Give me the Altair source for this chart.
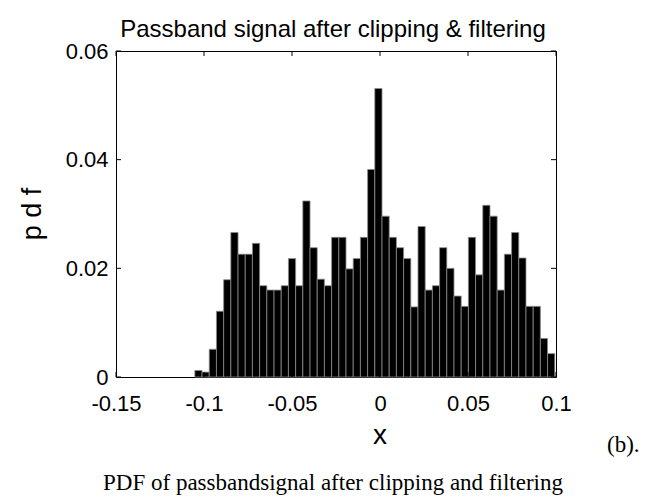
import altair as alt
import pandas as pd
import numpy as np

# ---- data ----
pdf_values = [
    0.0012, 0.0009, 0.0051, 0.0121, 0.0179, 0.0266, 0.0226, 0.0226, 0.0246, 0.0168,
    0.0160, 0.0160, 0.0168, 0.0218, 0.0168, 0.0324, 0.0238, 0.0180, 0.0168, 0.0257,
    0.0257, 0.0199, 0.0218, 0.0257, 0.0382, 0.0531, 0.0296, 0.0257, 0.0238, 0.0218,
    0.0129, 0.0277, 0.0160, 0.0168, 0.0238, 0.0200, 0.0149, 0.0130, 0.0257, 0.0188,
    0.0316, 0.0296, 0.0160, 0.0226, 0.0266, 0.0219, 0.0130, 0.0130, 0.0071, 0.0043,
]
bin_start = -0.1052
bin_end = 0.0993
x_ticks = [-0.15, -0.1, -0.05, 0, 0.05, 0.1]
y_ticks = [0, 0.02, 0.04, 0.06]
title_text = "Passband signal after clipping & filtering"
x_label = "x"
y_label = "p d f"
caption = "PDF of passbandsignal after clipping and filtering"
panel_tag = "(b)."

edges = np.linspace(bin_start, bin_end, len(pdf_values) + 1)
bars = pd.DataFrame({"x0": edges[:-1], "x1": edges[1:], "p": pdf_values,
                     "base": [0.0] * len(pdf_values)})

W, H = 440, 326
SANS = "Liberation Sans"
SERIF = "Liberation Serif"

xs = alt.Scale(domain=[-0.15, 0.1], nice=False, zero=False)
ys = alt.Scale(domain=[0, 0.06], nice=False, zero=False)

bar_layer = alt.Chart(bars).mark_rect(
    fill="black", stroke="#8c8c8c", strokeWidth=0.8
).encode(
    x=alt.X("x0:Q", scale=xs, axis=alt.Axis(
        values=x_ticks, labelExpr="'' + datum.value", title=None,
        labelPadding=16, labelFlush=False, labelOverlap=False)),
    x2="x1:Q",
    y=alt.Y("p:Q", scale=ys, axis=alt.Axis(
        values=y_ticks, labelExpr="'' + datum.value", title=None,
        labelPadding=8, labelFlush=False, labelOverlap=False)),
    y2="base:Q",
)

xt = pd.DataFrame({"v": x_ticks})
yt = pd.DataFrame({"v": y_ticks})
tick_style = dict(color="black", strokeWidth=1)
xb = alt.Chart(xt).mark_rule(**tick_style).encode(
    x=alt.X("v:Q", scale=xs), y=alt.value(H), y2=alt.value(H - 5))
xtop = alt.Chart(xt).mark_rule(**tick_style).encode(
    x=alt.X("v:Q", scale=xs), y=alt.value(0), y2=alt.value(5))
yl = alt.Chart(yt).mark_rule(**tick_style).encode(
    y=alt.Y("v:Q", scale=ys), x=alt.value(0), x2=alt.value(5))
yr = alt.Chart(yt).mark_rule(**tick_style).encode(
    y=alt.Y("v:Q", scale=ys), x=alt.value(W - 5), x2=alt.value(W))


def label(text, x, y, font, size, align="center", angle=0):
    kw = dict(font=font, fontSize=size, align=align, baseline="alphabetic", color="black")
    if angle:
        kw["angle"] = angle
    return alt.Chart(pd.DataFrame({"t": [text]})).mark_text(**kw).encode(
        text="t:N", x=alt.value(x), y=alt.value(y))


texts = [
    label(title_text, 217, -14, SANS, 24),
    label(y_label, -75, 163, SANS, 27, angle=270),
    label(x_label, 264, 393, SANS, 28),
    label(panel_tag, 491, 401, SERIF, 23, align="left"),
    label(caption, 217, 439, SERIF, 23),
]

chart = alt.layer(bar_layer, xb, xtop, yl, yr, *texts).properties(
    width=W, height=H,
    autosize=alt.AutoSizeParams(type="none"),
    padding={"left": 108, "top": 43, "right": 95, "bottom": 118},
).configure_view(
    stroke="black", strokeWidth=1
).configure_axis(
    labelFont=SANS, labelFontSize=22, labelColor="black",
    ticks=False, tickSize=0, domain=False, grid=False,
)

chart.save("out.html", embed_options={"renderer": "svg", "actions": False})
